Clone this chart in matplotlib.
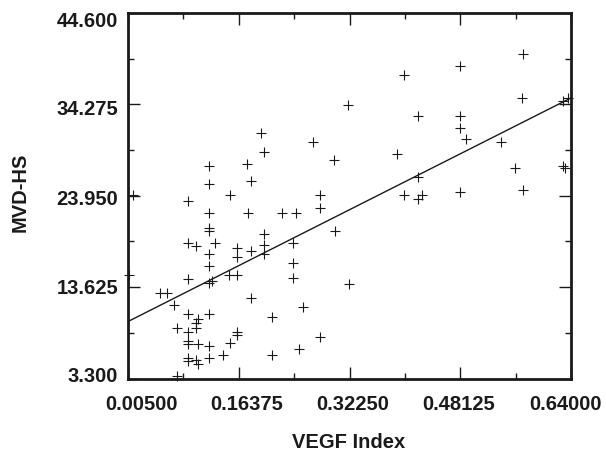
import numpy as np
import matplotlib
matplotlib.use("Agg")
import matplotlib.pyplot as plt
from matplotlib.transforms import ScaledTranslation

# VEGF Index (x) and MVD-HS (y) values
vegf = [0.0122, 0.0064, 0.0752, 0.1952, 0.2004, 0.1207, 0.1756, 0.1207, 0.1806, 0.1512,
        0.0910, 0.1207, 0.1766, 0.2253, 0.2458, 0.1207, 0.1207, 0.2004, 0.0903, 0.1018,
        0.1301, 0.1612, 0.1806, 0.2004, 0.2004, 0.2408, 0.1207, 0.1612, 0.1207, 0.2408,
        0.1502, 0.1612, 0.2408, 0.0903, 0.1207, 0.1254, 0.0509, 0.0616, 0.1806, 0.0709,
        0.2558, 0.0903, 0.1207, 0.1058, 0.2114, 0.1018, 0.0752, 0.1018, 0.0903, 0.1612,
        0.1612, 0.0903, 0.0903, 0.1058, 0.1207, 0.1505, 0.1415, 0.2114, 0.2508, 0.1207,
        0.0903, 0.0903, 0.1018, 0.1056, 0.2802, 0.2802, 0.3017, 0.3211, 0.2805, 0.2698,
        0.3007, 0.3208, 0.4006, 0.4211, 0.3902, 0.4211, 0.4006, 0.4200, 0.4264, 0.4809,
        0.5708, 0.4809, 0.5702, 0.6290, 0.6364, 0.4802, 0.4802, 0.4898, 0.5397, 0.5604,
        0.6285, 0.6314, 0.5712]
mvd = [24.03, 15.00, 3.58, 31.01, 28.89, 27.26, 27.54, 25.31, 25.65, 24.03,
       23.41, 21.97, 22.00, 22.00, 21.97, 20.31, 20.02, 19.59, 18.61, 18.31,
       18.61, 18.10, 17.67, 18.35, 17.33, 18.61, 17.33, 17.03, 16.01, 16.35,
       14.94, 14.94, 14.66, 14.54, 14.07, 14.32, 12.96, 12.96, 12.36, 11.61,
       11.35, 10.59, 10.64, 10.02, 10.28, 9.54, 9.01, 9.01, 8.52, 8.52,
       8.24, 7.54, 7.20, 7.25, 7.01, 7.29, 5.99, 5.99, 6.60, 5.66,
       5.56, 5.31, 5.37, 4.94, 24.07, 22.57, 20.00, 14.01, 7.96, 29.99,
       28.02, 34.26, 37.59, 33.00, 28.72, 26.07, 24.07, 23.58, 24.07, 24.34,
       39.97, 38.61, 35.05, 34.66, 34.94, 33.00, 31.61, 30.36, 29.99, 27.09,
       27.35, 27.11, 24.60]

x_ticks = [0.00500, 0.16375, 0.32250, 0.48125, 0.64000]
y_ticks = [3.300, 13.625, 23.950, 34.275, 44.600]
x_tick_labels = ["0.00500", "0.16375", "0.32250", "0.48125", "0.64000"]
y_tick_labels = ["3.300", "13.625", "23.950", "34.275", "44.600"]

ink = "#1a1a1a"
plt.rcParams['font.family'] = ['Liberation Sans', 'DejaVu Sans']

fig = plt.figure(figsize=(6.06, 4.60), dpi=100)
ax = fig.add_axes([128/606, 1-379.5/460, (571-128)/606, (379.5-14)/460])

x = np.array(vegf)
y = np.array(mvd)
ax.plot(x, y, linestyle='none', marker='+', markersize=7, markeredgewidth=0.8,
        color=ink, clip_on=False, zorder=3)

slope, intercept = np.polyfit(x, y, 1)
xl = np.array([x_ticks[0], x_ticks[-1]])
ax.plot(xl, intercept + slope*xl, color=ink, linewidth=1.0, zorder=2)

ax.set_xlim(x_ticks[0], x_ticks[-1])
ax.set_ylim(y_ticks[0], y_ticks[-1])

ax.set_xticks(x_ticks)
ax.set_xticklabels(x_tick_labels)
ax.set_yticks(y_ticks)
ax.set_yticklabels(y_tick_labels)
xm = [(a+b)/2 for a, b in zip(x_ticks[:-1], x_ticks[1:])]
ym = [(a+b)/2 for a, b in zip(y_ticks[:-1], y_ticks[1:])]
ax.set_xticks(xm, minor=True)
ax.set_yticks(ym, minor=True)

ax.tick_params(which='major', direction='in', length=8.5, width=1.0, color=ink,
               top=True, right=True, labelsize=14.5, labelcolor=ink)
ax.tick_params(which='minor', direction='in', length=4.5, width=1.0, color=ink,
               top=True, right=True)
ax.tick_params(axis='x', which='major', pad=11)
ax.tick_params(axis='y', which='major', pad=7)
for lab in ax.get_xticklabels() + ax.get_yticklabels():
    lab.set_fontweight('bold')

# label offsets as in the reference (pixels)
xoff = [13, 8, 3, -2, -6]
yoff = [4.5, 2, -1, -2, -5.5]
for lab, dx in zip(ax.get_xticklabels(), xoff):
    lab.set_transform(lab.get_transform() + ScaledTranslation(dx/100, 0, fig.dpi_scale_trans))
for lab, dy in zip(ax.get_yticklabels(), yoff):
    lab.set_transform(lab.get_transform() + ScaledTranslation(0, dy/100, fig.dpi_scale_trans))

for s in ax.spines.values():
    s.set_linewidth(2.0)
    s.set_color(ink)

fig.text(349/606, 1-443/460, "VEGF Index", ha='center', va='center',
         fontsize=14.5, fontweight='bold', color=ink)
fig.text(20/606, 1-192/460, "MVD-HS", ha='center', va='center', rotation=90,
         fontsize=14.5, fontweight='bold', color=ink)

fig.savefig("out.png", dpi=100)
